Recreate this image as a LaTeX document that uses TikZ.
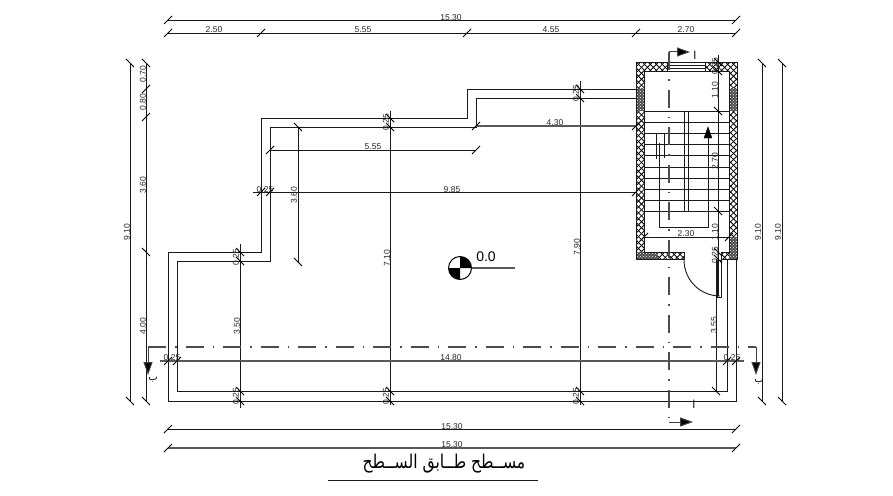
\documentclass[tikz,border=0pt]{standalone}
\usepackage{fontspec}
\setmainfont{Liberation Sans}
\newfontfamily\arabicfont[Script=Arabic]{DejaVu Sans}
\TeXXeTstate=1
\usetikzlibrary{arrows.meta,patterns,patterns.meta}

\tikzset{
    dimline/.style={draw=black!90,line width=.9pt},
    greyline/.style={draw=black!65,line width=1.2pt},
    tickmark/.style={draw=black,line width=.9pt},
    wallline/.style={draw=black!90,line width=.9pt},
    dimtext/.style={font=\fontsize{8.5}{10}\selectfont,text=black!85,inner sep=0pt},
    wallhatch/.style={pattern={Lines[angle=45,distance=4.2pt,line width=.8pt]},
        postaction={pattern={Lines[angle=-45,distance=4.2pt,line width=.8pt]}}},
    column/.style={fill=black!70,postaction={pattern=crosshatch dots,pattern color=white}},
    axisline/.style={draw=black!70,line width=1.2pt,dash pattern=on 18pt off 9pt on 1.5pt off 9pt},
    sectionarrow/.style={draw=black!75,line width=1pt,-{Triangle[length=13pt,width=9pt,fill=black]}},
}

\begin{document}
\begin{tikzpicture}[x=1pt,y=-1pt]
        \useasboundingbox (0,0) rectangle (893,495);

        \foreach \xa/\ya/\xb/\yb in {636/62/644/259,729/62/737/259,644/62/667/71,705/62/729/71,644/252/684/259,721/252/729/259}
            \path[wallhatch] (\xa,\ya) rectangle (\xb,\yb);
        \foreach \xa/\ya/\xb/\yb in {636/88/644/111,729/88/737/111,636/252/658/259,729/237/737/259}
            \path[column] (\xa,\ya) rectangle (\xb,\yb);

        \draw[wallline] (667,62)--(636,62)--(636,259)--(684,259)--(684,252)--(644,252)--(644,71)--(667,71);
        \draw[wallline] (705,62)--(737,62)--(737,259)--(721,259)--(721,252)--(729,252)--(729,71)--(705,71);
        \draw[wallline] (667,62) rectangle (705,71);
        \path[dimline] (667,65.5)edge(705,65.5) (667,68)edge(705,68);

        \draw[wallline] (636,89)--(467,89)--(467,118)--(261,118)--(261,252)--(168,252)--(168,401)--(736,401)--(736,259);
        \draw[wallline] (636,98)--(476,98)--(476,127)--(270,127)--(270,261)--(177,261)--(177,391)--(727,391)--(727,259);

        \foreach \y in {111,122,133,144,155,167,178,189,200,211}
            \draw[dimline] (644,\y)--(729,\y);
        \path[dimline]
            (684,111)edge(684,211)
            (688,111)edge(688,211)
            (656,133)edge(656,159)
            (664,133)edge(664,158)
            ;
        \draw[dimline] (659,143)--(659,227)--(708,227)--(708,138);
        \draw[fill=black] (708,127)--(712,138)--(704,138)--cycle;

        \draw[wallline] (717,260) rectangle (721,297);
        \draw[wallline] (684,260) arc[start angle=180,end angle=270,radius=36pt];

        \path[dimline]
            (168,20)edge(736,20)
            (168,33)edge(736,33)
            (168,429)edge(736,429)
            (130,63)edge(130,401)
            (146,63)edge(146,401)
            (762,63)edge(762,401)
            (782,63)edge(782,401)
            (240,244)edge(240,408)
            (390,111)edge(390,405)
            (580,81)edge(580,405)
            (298,127)edge(298,262)
            (718,55)edge(718,296)
            (716,259)edge(716,391)
            (270,150)edge(476,150)
            (253,192)edge(636,192)
            (644,237)edge(729,237)
            ;
        \path[greyline]
            (168,448)edge(736,448)
            (476,126)edge(636,126)
            (160,361)edge(744,361)
            ;

        \foreach \x/\y in {168/20,736/20,168/33,261/33,467/33,636/33,736/33,168/429,736/429,168/448,736/448,
                146/89,146/117,168/361,177/361,727/361,736/361,261/192,270/192,636/192,
                270/150,476/150,476/126,636/126,644/237,729/237}
            \draw[tickmark] (\x-4,\y+4)--(\x+4,\y-4);
        \foreach \x/\y in {130/63,130/401,146/63,146/252,146/401,762/63,782/63,762/401,782/401,
                240/252,240/261,240/391,240/401,390/118,390/127,390/391,390/401,580/89,580/98,580/391,580/401,
                298/127,298/262,718/62,718/71,718/111,718/211,718/252,718/259,716/391}
            \draw[tickmark] (\x-4,\y-4)--(\x+4,\y+4);

        \draw[axisline] (148,347)--(756,347);
        \draw[axisline] (669,52)--(669,422);
        \draw[sectionarrow] (669,52)--(690,52);
        \draw[sectionarrow] (669,422)--(693,422);
        \draw[sectionarrow] (148,347)--(148,375);
        \draw[sectionarrow] (756,347)--(756,375);
        \node[inner sep=0pt,font=\fontsize{11}{12}\selectfont] at (695,55)(secAtop){\arabicfont\beginR ا\endR};
        \node[inner sep=0pt,font=\fontsize{11}{12}\selectfont] at (694,404)(secAbot){\arabicfont\beginR ا\endR};
        \node[inner sep=0pt,font=\fontsize{10}{12}\selectfont] at (153,380)(secBleft){\arabicfont\beginR ﺏ\endR};
        \node[inner sep=0pt,font=\fontsize{10}{12}\selectfont] at (759,382)(secBright){\arabicfont\beginR ﺏ\endR};

        \node[dimtext] at (451,18)(top1530){15.30};
        \node[dimtext] at (214,30)(top250){2.50};
        \node[dimtext] at (363,30)(top555){5.55};
        \node[dimtext] at (551,30)(top455){4.55};
        \node[dimtext] at (686,30)(top270){2.70};
        \node[dimtext] at (452,427)(bot1530a){15.30};
        \node[dimtext] at (452,445)(bot1530b){15.30};
        \node[dimtext] at (451,358)(in1480){14.80};
        \node[dimtext] at (452,190)(in985){9.85};
        \node[dimtext] at (373,147)(in555){5.55};
        \node[dimtext] at (555,123)(in430){4.30};
        \node[dimtext] at (686,234)(in230){2.30};
        \node[dimtext] at (265,190)(w1){0.25};
        \node[dimtext] at (172,358)(w2){0.25};
        \node[dimtext] at (732,358)(w3){0.25};

        \node[dimtext,rotate=90] at (127,232)(leftall){9.10};
        \node[dimtext,rotate=90] at (143,74)(left070){0.70};
        \node[dimtext,rotate=90] at (143,102)(left080){0.80};
        \node[dimtext,rotate=90] at (143,185)(left360){3.60};
        \node[dimtext,rotate=90] at (143,326)(left400){4.00};
        \node[dimtext,rotate=90] at (758,232)(righta){9.10};
        \node[dimtext,rotate=90] at (778,232)(rightb){9.10};
        \node[dimtext,rotate=90] at (237,326)(v350){3.50};
        \node[dimtext,rotate=90] at (294,195)(v360){3.60};
        \node[dimtext,rotate=90] at (387,258)(v710){7.10};
        \node[dimtext,rotate=90] at (577,247)(v790){7.90};
        \node[dimtext,rotate=90] at (714,325)(v355){3.55};
        \node[dimtext,rotate=90] at (715,90)(s110a){1.10};
        \node[dimtext,rotate=90] at (715,161)(s270){2.70};
        \node[dimtext,rotate=90] at (715,232)(s110b){1.10};
        \node[dimtext,rotate=90] at (715,66)(s025a){0.25};
        \node[dimtext,rotate=90] at (715,255)(s025b){0.25};
        \foreach \x/\y/\n in {236/257/a,236/396/b,386/122/c,386/396/d,576/93/e,576/396/f}
            \node[dimtext,rotate=90] at (\x,\y)(v025\n){0.25};

        \draw[greyline] (471,268)--(515,268);
        \draw[line width=1pt] (460,268) circle[radius=11.5pt];
        \fill (460,268)--++(0:11.5pt) arc[start angle=0,end angle=90,radius=11.5pt]--cycle;
        \fill (460,268)--++(180:11.5pt) arc[start angle=180,end angle=270,radius=11.5pt]--cycle;
        \node[inner sep=0pt,font=\fontsize{14}{16}\selectfont] at (486,257)(level){0.0};

        \node[inner sep=0pt,transform shape,xscale=.82,font=\fontsize{19}{22}\selectfont] at (444,464)(title){\arabicfont\beginR مســطح طــابق الســطح\endR};
        \draw[dimline] (328,480)--(538,480);
    \end{tikzpicture}
\end{document}
